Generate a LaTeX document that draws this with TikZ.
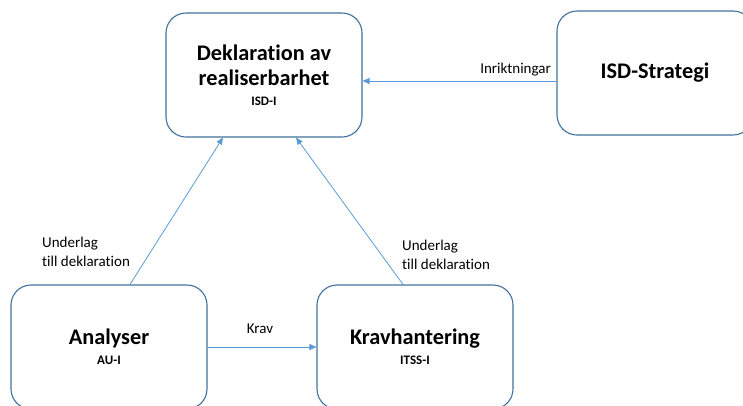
\documentclass[tikz,border=0pt]{standalone}
\usepackage{fontspec}
\setmainfont{Carlito}[Ligatures=NoCommon]
\usetikzlibrary{arrows.meta}
\definecolor{boxline}{HTML}{41719C}
\definecolor{arrowline}{HTML}{5B9BD5}
\newcommand{\unitcode}[1]{\fontsize{13}{15}\selectfont #1}
\begin{document}
\begin{tikzpicture}[x=1pt,y=1pt,
  unitbox/.style={draw=boxline, line width=1.1pt, rounded corners=20pt, fill=white,
    minimum width=196pt, minimum height=124pt, align=center, inner sep=0pt,
    font=\fontsize{22.3}{25}\selectfont\bfseries},
  flow/.style={draw=arrowline, line width=0.8pt, -{Triangle[length=7pt,width=6pt]}},
  lbl/.style={font=\fontsize{15}{19}\selectfont, inner sep=0pt, align=left},
]
\useasboundingbox (0,0) rectangle (743,-405);
\clip (0,0) rectangle (743,-405);

% units
\node[unitbox] (dek) at (264,-75)
  {Deklaration av\\realiserbarhet\\[-5pt]\unitcode{ISD-I}};
\node[unitbox] (str) at (655,-73) {ISD-Strategi};
\node[unitbox] (ana) at (109,-347)
  {Analyser\\[-5pt]\unitcode{AU-I}};
\node[unitbox] (krv) at (415,-347)
  {Kravhantering\\[-5pt]\unitcode{ITSS-I}};

% flows between units
\draw[flow] (str.west |- 0,-81) -- (dek.east |- 0,-81);
\draw[flow] ([xshift=21pt]ana.north) -- ([xshift=-41pt]dek.south);
\draw[flow] ([xshift=-12pt]krv.north) -- ([xshift=32pt]dek.south);
\draw[flow] (ana.east) -- (krv.west);

% flow labels
\node[lbl, anchor=east] (l1) at (551,-70) {Inriktningar};
\node[lbl, anchor=west] (l2) at (42,-252) {Underlag\\till deklaration};
\node[lbl, anchor=west] (l3) at (402,-255) {Underlag\\till deklaration};
\node[lbl] (l4) at (260,-329) {Krav};
\end{tikzpicture}
\end{document}
